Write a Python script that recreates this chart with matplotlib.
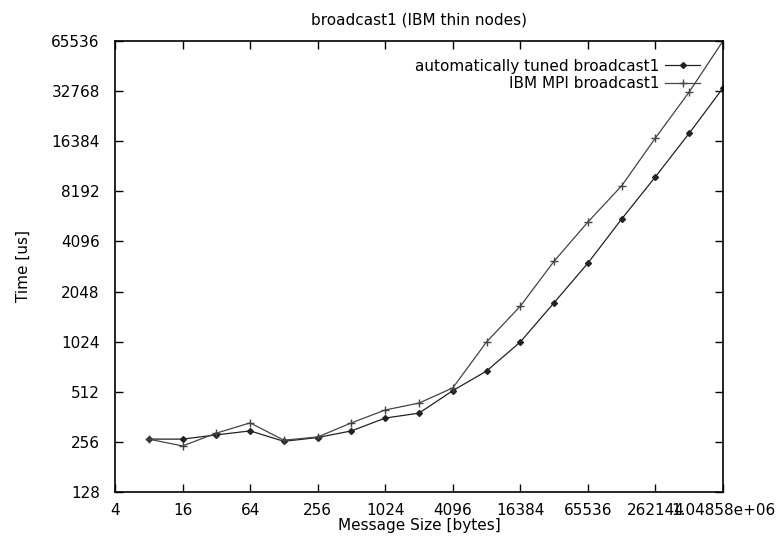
import matplotlib
matplotlib.use("Agg")
from matplotlib import pyplot as plt

# message sizes in bytes
sizes = [8, 16, 32, 64, 128, 256, 512, 1024, 2048, 4096, 8192, 16384,
         32768, 65536, 131072, 262144, 524288, 1048576]
# time in microseconds
auto_tuned = [266, 266, 282, 298, 258, 272, 298, 356, 381, 520, 682, 1020,
              1756, 3035, 5585, 10020, 18300, 34200]
ibm_mpi = [266, 242, 289, 333, 262, 274, 333, 398, 438, 540, 1020, 1674,
           3118, 5358, 8840, 17150, 32400, 65536]

xticks = [4 ** k for k in range(1, 11)]
yticks = [2 ** k for k in range(7, 17)]

plt.rcParams['font.family'] = 'DejaVu Sans'
plt.rcParams['font.size'] = 11

fig = plt.figure(figsize=(7.81, 5.38), dpi=100)
ax = fig.add_axes([115 / 781, 1 - 492 / 538, 608 / 781, 451 / 538])

ax.plot(sizes, auto_tuned, color='#222222', lw=0.9, marker='D', ms=3,
        label='automatically tuned broadcast1')
ax.plot(sizes, ibm_mpi, color='#444444', lw=0.9, marker='+', ms=6,
        mew=1, label='IBM MPI broadcast1')

ax.set_xscale('log', base=2)
ax.set_yscale('log', base=2)
ax.set_xlim(4, 1048576)
ax.set_ylim(128, 65536)
ax.set_xticks(xticks)
ax.set_xticklabels(['{:g}'.format(v) for v in xticks])
ax.set_yticks(yticks)
ax.set_yticklabels(['{:g}'.format(v) for v in yticks])
ax.minorticks_off()
ax.tick_params(direction='in', length=6, width=1, top=True, right=True, pad=8)
ax.tick_params(axis='y', pad=11)
for s in ax.spines.values():
    s.set_linewidth(1.2)

ax.set_title('broadcast1 (IBM thin nodes)', fontsize=11, pad=12)
ax.set_xlabel('Message Size [bytes]', labelpad=0)
ax.set_ylabel('Time [us]', labelpad=15)

ax.legend(loc='upper right', bbox_to_anchor=(708 / 781, 1 - 51 / 538),
          bbox_transform=fig.transFigure, frameon=False, markerfirst=False,
          handlelength=2.3, handletextpad=0.4, labelspacing=0.15,
          borderpad=0, fontsize=11)

plt.savefig('out.png', dpi=100)
